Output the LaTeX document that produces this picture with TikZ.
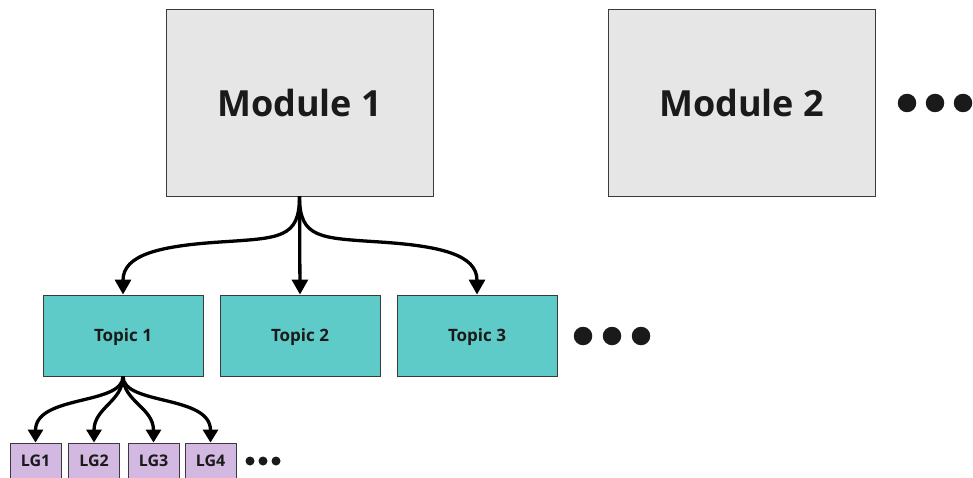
\documentclass[tikz,border=0pt]{standalone}
\usepackage{fontspec}
\setmainfont{Open Sans}
\usetikzlibrary{arrows.meta}
\definecolor{modfill}{HTML}{E6E6E6}
\definecolor{topicfill}{HTML}{5ECBC8}
\definecolor{lgfill}{HTML}{D3B8E2}
\definecolor{ink}{HTML}{1A1A1A}
\definecolor{edge}{HTML}{3A3A3A}
\tikzset{
  box/.style={draw=edge, line width=0.9pt, inner sep=0pt, text=ink, font=\bfseries, text depth=0pt},
  modbox/.style={box, fill=modfill, minimum width=267pt, minimum height=187pt,
    font=\fontsize{36}{40}\selectfont\bfseries, text height=28.7pt},
  topicbox/.style={box, fill=topicfill, minimum width=160pt, minimum height=81pt,
    font=\fontsize{17}{20}\selectfont\bfseries, text height=12.1pt},
  lgbox/.style={box, fill=lgfill, minimum width=51pt, minimum height=40pt,
    font=\fontsize{16}{19}\selectfont\bfseries, text height=7.4pt},
  link/.style={line width=3.3pt, -{Triangle[width=16pt,length=15pt]}},
  smalllink/.style={line width=3.3pt, -{Triangle[width=15pt,length=13pt]}},
  bigdot/.style={circle, fill=ink, inner sep=0pt, minimum size=18.5pt},
  smalldot/.style={circle, fill=ink, inner sep=0pt, minimum size=9pt},
}
\begin{document}
\begin{tikzpicture}[x=1pt, y=-1pt]
\useasboundingbox (0,0) rectangle (973,478);
% modules
\node[modbox] (m1) at (299.5,102.5) {Module 1};
\node[modbox] (m2) at (741.5,102.5) {Module 2};
\node[bigdot] (md1) at (907,103) {};
\node[bigdot] (md2) at (935,103) {};
\node[bigdot] (md3) at (963,103) {};
% topics
\node[topicbox] (t1) at (123,335.5) {Topic 1};
\node[topicbox] (t2) at (300,335.5) {Topic 2};
\node[topicbox] (t3) at (477,335.5) {Topic 3};
\node[bigdot] (td1) at (583,336) {};
\node[bigdot] (td2) at (612,336) {};
\node[bigdot] (td3) at (641,336) {};
% learning goals
\node[lgbox] (g1) at (35.5,463) {LG1};
\node[lgbox] (g2) at (94,463) {LG2};
\node[lgbox] (g3) at (153.5,463) {LG3};
\node[lgbox] (g4) at (210.5,463) {LG4};
\node[smalldot] (gd1) at (250,461) {};
\node[smalldot] (gd2) at (263,461) {};
\node[smalldot] (gd3) at (276,461) {};
% module -> topics
\draw[link] (m1.south) .. controls +(0,42) and +(60,-4) .. (220,242)
  .. controls +(-60,4) and +(0,-40) .. (t1.north);
\draw[link] (m1.south) -- (t2.north);
\draw[link] (m1.south) .. controls +(0,42) and +(-60,-4) .. (380,242)
  .. controls +(60,4) and +(0,-40) .. (t3.north);
% topic -> learning goals
\draw[smalllink] (t1.south) .. controls +(0,29) and +(0,-48) .. (g1.north);
\draw[smalllink] (t1.south) .. controls +(0,25) and +(0,-35) .. (g2.north);
\draw[smalllink] (t1.south) .. controls +(0,25) and +(0,-35) .. (g3.north);
\draw[smalllink] (t1.south) .. controls +(0,29) and +(0,-48) .. (g4.north);
\end{tikzpicture}
\end{document}
